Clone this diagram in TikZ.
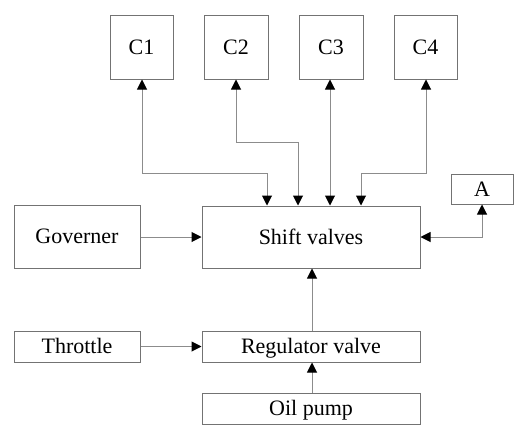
\documentclass[tikz,border=0pt]{standalone}
\usepackage{fontspec}
\setmainfont{Liberation Serif}
\usetikzlibrary{arrows.meta}
\begin{document}
\begin{tikzpicture}[x=1pt,y=-1pt,
  blk/.style={draw=black!55,line width=1pt,inner sep=0pt,text height=15pt,text depth=0.5pt,font=\fontsize{22}{24}\selectfont},
  conn/.style={draw=black!45,line width=1pt,-{Triangle[length=10pt,width=10pt,black]}},
  dconn/.style={draw=black!45,line width=1pt,{Triangle[length=10pt,width=10pt,black]}-{Triangle[length=10pt,width=10pt,black]}}]
\useasboundingbox (0,0) rectangle (529,428);
\newcommand{\bx}[6]{\node[blk,minimum width={#4-#2},minimum height={#5-#3}] (#1) at ({(#2+#4)/2},{(#3+#5)/2}) {#6};}
\bx{c1}{110}{16}{173}{79}{C1}
\bx{c2}{204}{16}{268}{79}{C2}
\bx{c3}{299}{16}{363}{79}{C3}
\bx{c4}{394}{16}{457}{79}{C4}
\bx{sv}{202}{206}{420}{268}{Shift valves}
\bx{gov}{14}{205}{140}{268}{Governer}
\bx{a}{451}{174}{513}{204}{A}
\bx{thr}{14}{331}{140}{362}{Throttle}
\bx{rv}{202}{331}{420}{362}{Regulator valve}
\bx{op}{202}{393}{420}{424}{Oil pump}
\draw[dconn] (c1.south -| 142,0) |- (267,173) -- (sv.north -| 267,0);
\draw[dconn] (c2.south -| 236,0) |- (298,142) -- (sv.north -| 298,0);
\draw[dconn] (c3.south -| 330,0) -- (sv.north -| 330,0);
\draw[dconn] (c4.south -| 426,0) |- (361,173) -- (sv.north -| 361,0);
\draw[dconn] (a.south -| 482,0) |- (sv.east |- 0,237);
\draw[conn] (gov.east |- 0,237) -- (sv.west |- 0,237);
\draw[conn] (thr.east) -- (rv.west);
\draw[conn] (rv.north -| 312,0) -- (sv.south -| 312,0);
\draw[conn] (op.north -| 312,0) -- (rv.south -| 312,0);
\end{tikzpicture}
\end{document}
